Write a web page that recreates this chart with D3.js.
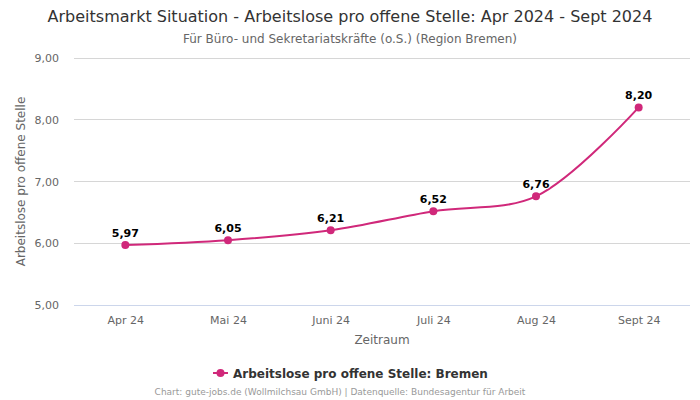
<!DOCTYPE html>
<html><head><meta charset="utf-8">
<script src="https://cdn.jsdelivr.net/npm/d3@7"></script>
<style>body{margin:0;background:#fff;font-family:"DejaVu Sans",sans-serif}</style>
</head><body><svg id="c" width="700" height="400"></svg>
<script>
const categories = ["Apr 24","Mai 24","Juni 24","Juli 24","Aug 24","Sept 24"];
const values = [5.97, 6.05, 6.21, 6.52, 6.76, 8.20];
const yTicks = [5, 6, 7, 8, 9];
const title = "Arbeitsmarkt Situation - Arbeitslose pro offene Stelle: Apr 2024 - Sept 2024";
const subtitle = "Für Büro- und Sekretariatskräfte (o.S.) (Region Bremen)";
const seriesName = "Arbeitslose pro offene Stelle: Bremen";
const color = "#d0287a";

(function(){
const svg = d3.select("#c");
const pLeft = 74, pRight = 690, pTop = 58, pBottom = 305;
const x = d3.scalePoint().domain(categories).range([pLeft, pRight]).padding(0.5);
const y = d3.scaleLinear().domain([5, 9]).range([pBottom, pTop]);
const fmt = v => d3.format(".2f")(v).replace(".", ",");

svg.append("text").attr("x", 350).attr("y", 22).attr("text-anchor", "middle")
  .attr("font-size", 16).attr("fill", "#333").text(title);
svg.append("text").attr("x", 350).attr("y", 43).attr("text-anchor", "middle")
  .attr("font-size", 12).attr("fill", "#666").text(subtitle);

// grid
svg.append("g").selectAll("line").data(yTicks.filter(t => t !== 5)).join("line")
  .attr("x1", pLeft).attr("x2", pRight).attr("y1", d => y(d)).attr("y2", d => y(d))
  .attr("stroke", "#d6d6d6").attr("stroke-width", 1).attr("shape-rendering", "crispEdges");
svg.append("line").attr("x1", pLeft).attr("x2", pRight).attr("y1", y(5)).attr("y2", y(5))
  .attr("stroke", "#ccd6eb").attr("shape-rendering", "crispEdges");

// y axis
const ya = svg.append("g").attr("transform", `translate(${pLeft - 15},0)`)
  .call(d3.axisLeft(y).tickValues(yTicks).tickFormat(fmt).tickSize(0).tickPadding(0));
ya.select(".domain").remove();
ya.selectAll("text").attr("font-size", 11).attr("fill", "#666").attr("font-family", "DejaVu Sans, sans-serif");

// x axis
const xa = svg.append("g").attr("transform", `translate(0,${pBottom})`)
  .call(d3.axisBottom(x).tickSize(0).tickPadding(11));
xa.select(".domain").remove();
xa.selectAll("text").attr("font-size", 11).attr("fill", "#666").attr("font-family", "DejaVu Sans, sans-serif");

svg.append("text").attr("x", 382).attr("y", 344).attr("text-anchor", "middle")
  .attr("font-size", 12).attr("fill", "#666").text("Zeitraum");
svg.append("text").attr("transform", `translate(25,${(pTop + pBottom) / 2}) rotate(-90)`)
  .attr("text-anchor", "middle").attr("font-size", 12).attr("fill", "#666")
  .text("Arbeitslose pro offene Stelle");

const data = categories.map((c, i) => ({c, v: values[i]}));
const line = d3.line().x(d => x(d.c)).y(d => y(d.v)).curve(d3.curveCatmullRom.alpha(0.5));
svg.append("path").datum(data).attr("d", line).attr("fill", "none")
  .attr("stroke", color).attr("stroke-width", 2);
svg.append("g").selectAll("circle").data(data).join("circle")
  .attr("cx", d => x(d.c)).attr("cy", d => y(d.v)).attr("r", 4).attr("fill", color);
svg.append("g").selectAll("text").data(data).join("text")
  .attr("x", d => x(d.c)).attr("y", d => y(d.v) - 8).attr("text-anchor", "middle")
  .attr("font-size", 11).attr("font-weight", "bold").attr("fill", "#000")
  .attr("stroke", "#fff").attr("stroke-width", 2).attr("paint-order", "stroke")
  .text(d => fmt(d.v));

// legend
const lg = svg.append("g");
lg.append("line").attr("x1", 213).attr("x2", 228).attr("y1", 373).attr("y2", 373)
  .attr("stroke", color).attr("stroke-width", 2);
lg.append("circle").attr("cx", 220.5).attr("cy", 373).attr("r", 4).attr("fill", color);
lg.append("text").attr("x", 233).attr("y", 377.5).attr("font-size", 12).attr("font-weight", "bold")
  .attr("fill", "#333").text(seriesName);

svg.append("text").attr("x", 340).attr("y", 395).attr("text-anchor", "middle")
  .attr("font-size", 9).attr("fill", "#999")
  .text("Chart: gute-jobs.de (Wollmilchsau GmbH) | Datenquelle: Bundesagentur für Arbeit");
})();
</script></body></html>
